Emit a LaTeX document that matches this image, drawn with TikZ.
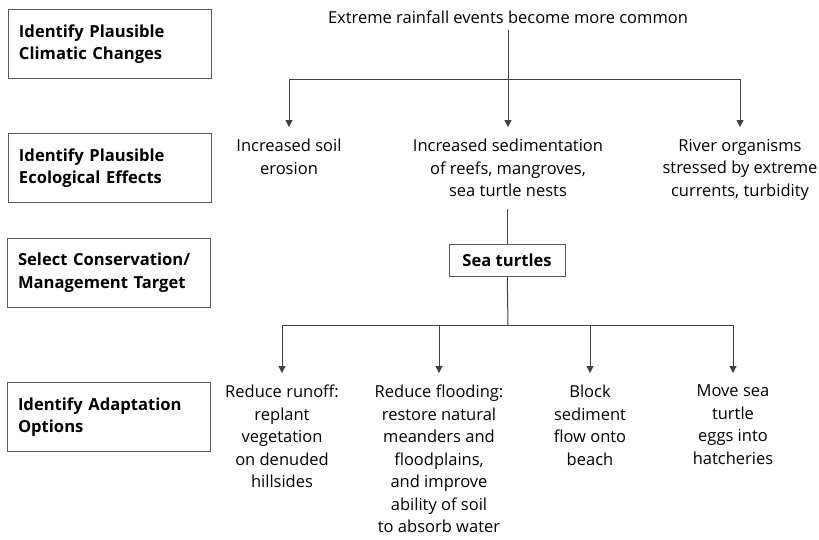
\documentclass[tikz,border=0pt]{standalone}
\usepackage{fontspec}
\setmainfont{Open Sans}
\usetikzlibrary{arrows.meta,positioning}

\begin{document}
\begin{tikzpicture}[>={Triangle[width=7pt,length=7pt]}, x=1pt, y=-1pt]
  % --- Styles ---
    \tikzset{
      stage/.style = {rectangle,draw=black!65,line width=.9pt,minimum width=203pt,minimum height=69pt,
                      text width=182pt,align=left,inner xsep=10pt,
                      font=\fontsize{16.6}{22.5}\selectfont\bfseries},
      target/.style= {rectangle,draw=black!65,line width=.9pt,minimum width=116pt,minimum height=32pt,
                      font=\fontsize{16.6}{22.5}\selectfont\bfseries},
      txt/.style   = {align=center,inner xsep=0pt,inner ysep=12pt,anchor=north,
                      font=\fontsize{16.5}{22.5}\selectfont},
      link/.style  = {draw=black!75,line width=1pt},
      arr/.style   = {->,draw=black!75,line width=1pt}
    }
    \useasboundingbox (0,0) rectangle (819,539);

    % --- Steps on the left ---
    \node[stage] (climate) at (110,44)    {Identify Plausible\\Climatic Changes};
    \node[stage] (effects) at (110,168)   {Identify Plausible\\Ecological Effects};
    \node[stage] (select)  at (109,272.5) {Select Conservation/\\Management Target};
    \node[stage] (options) at (109,417)   {Identify Adaptation\\Options};

    % --- Climatic change and its effects ---
    \node[txt,inner ysep=6pt] (rain) at (508,5) {Extreme rainfall events become more common};
    \node[txt] (erosion)  at (289,127) {Increased soil\\erosion};
    \node[txt] (sediment) at (508,127) {Increased sedimentation\\of reefs, mangroves,\\sea turtle nests};
    \node[txt] (river)    at (740,127) {River organisms\\stressed by extreme\\currents, turbidity};
    \coordinate (fork1) at (508,79);

    \draw[link] (rain) -- (fork1);
    \draw[arr] (fork1) -- (sediment);
    \draw[arr] (fork1) -| (erosion);
    \draw[arr] (fork1) -| (river);

    % --- Target ---
    \node[target] (turtles) at (507,260) {Sea turtles};
    \draw[link] (sediment.south -| turtles) -- (turtles);

    % --- Adaptation options ---
    \node[txt] (runoff)   at (282,373) {Reduce runoff:\\replant\\vegetation\\on denuded\\hillsides};
    \node[txt] (flooding) at (439,373) {Reduce flooding:\\restore natural\\meanders and\\floodplains,\\and improve\\ability of soil\\to absorb water};
    \node[txt] (block)    at (590,373) {Block\\sediment\\flow onto\\beach};
    \node[txt] (move)     at (733,373) {Move sea\\turtle\\eggs into\\hatcheries};
    \coordinate (fork2) at (508,325);

    \draw[link] (turtles) -- (fork2);
    \draw[arr] (fork2) -| (runoff);
    \draw[arr] (fork2) -| (flooding);
    \draw[arr] (fork2) -| (block);
    \draw[arr] (fork2) -| (move);

\end{tikzpicture}
\end{document}
